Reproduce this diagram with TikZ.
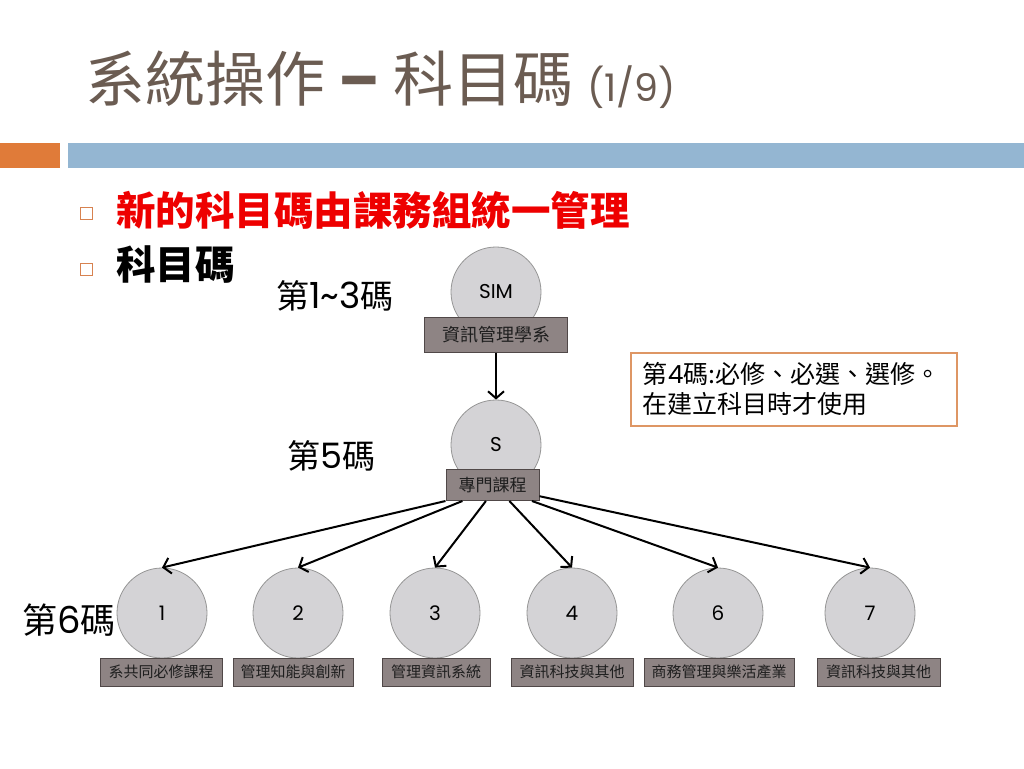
\documentclass[tikz,border=0pt]{standalone}
\usepackage{fontspec}
\setmainfont{Poppins}
\newfontfamily\cjk{Noto Sans CJK TC}
\newfontfamily\lat{Poppins}
\usetikzlibrary{arrows.meta,calc}
\newcommand\fsz[1]{\fontsize{#1}{#1}\selectfont}
\definecolor{titlec}{RGB}{107,92,82}
\definecolor{orangec}{RGB}{224,123,57}
\definecolor{bluec}{RGB}{148,182,210}
\definecolor{bulc}{RGB}{215,130,80}
\definecolor{redc}{RGB}{238,0,0}
\definecolor{circfill}{RGB}{212,211,214}
\definecolor{circdraw}{RGB}{150,150,150}
\definecolor{boxfill}{RGB}{142,132,132}
\definecolor{boxdraw}{RGB}{80,72,72}
\definecolor{boxtext}{RGB}{30,30,30}
\definecolor{notec}{RGB}{222,150,100}
\tikzset{
  circ/.style={circle, minimum size=90pt, inner sep=0pt, fill=circfill, draw=circdraw, line width=0.8pt, font=\lat\fsz{20}},
  lbl/.style={rectangle, fill=boxfill, draw=boxdraw, line width=1pt, font=\cjk\fsz{15}, text=boxtext, inner sep=0pt, minimum height=28pt},
  arr/.style={line width=2pt, -{Straight Barb[length=7pt,width=16pt]}},
  codelbl/.style={anchor=west, inner sep=0pt, text=black},
  bullet/.style={draw=bulc, line width=1pt, minimum size=12pt, inner sep=0pt}
}
\begin{document}
\begin{tikzpicture}[x=1pt,y=-1pt]
\useasboundingbox (0,0) rectangle (1024,768);
\fill[white] (0,0) rectangle (1024,768);
% title
\node[anchor=west, inner sep=0pt, text=titlec] (title) at (85,80) {\fsz{60}\cjk 系統操作 \lat\bfseries –\mdseries\cjk{} 科目碼 \lat\fsz{38}(1/9)};
% bars
\fill[orangec] (0,143) rectangle (60,168);
\fill[bluec] (68,143) rectangle (1024,168);
% bullets
\node[bullet] (b1) at (86,213) {};
\node[bullet] (b2) at (86,269) {};
\node[anchor=west, inner sep=0pt, text=redc] (t1) at (116,210) {\fsz{39.5}\cjk\bfseries 新的科目碼由課務組統一管理};
\node[anchor=west, inner sep=0pt, text=black] (t2) at (116,265) {\fsz{39.5}\cjk\bfseries 科目碼};
% level labels
\node[codelbl] (l13) at (276,296) {\fsz{33}\cjk 第\lat\fsz{36}1\textasciitilde 3\cjk\fsz{33}碼};
\node[codelbl] (l5) at (287,456) {\fsz{33}\cjk 第\lat\fsz{35}5\cjk\fsz{33}碼};
\node[codelbl] (l6) at (22,620) {\fsz{35}\cjk 第\lat\fsz{37}6\cjk\fsz{35}碼};
% circles
\node[circ] (sim) at (496,292) {SIM};
\node[circ] (sc) at (496,445) {S};
\node[circ] (c1) at (162,613) {1};
\node[circ] (c2) at (298,613) {2};
\node[circ] (c3) at (435,613) {3};
\node[circ] (c4) at (572,613) {4};
\node[circ] (c6) at (718,613) {6};
\node[circ] (c7) at (870,613) {7};
% boxes
\node[lbl, minimum width=143pt, minimum height=35pt, font=\cjk\fsz{18}] (simbox) at (496,334.5) {資訊管理學系};
\node[lbl, minimum width=93pt, minimum height=31pt, font=\cjk\fsz{17}] (sbox) at (492.5,485) {專門課程};
\node[lbl, minimum width=122pt] (k1) at (161,672) {系共同必修課程};
\node[lbl, minimum width=120pt] (k2) at (293,672) {管理知能與創新};
\node[lbl, minimum width=108pt] (k3) at (436,672) {管理資訊系統};
\node[lbl, minimum width=122pt] (k4) at (572,672) {資訊科技與其他};
\node[lbl, minimum width=150pt] (k6) at (719,672) {商務管理與樂活產業};
\node[lbl, minimum width=123pt] (k7) at (878.5,672) {資訊科技與其他};
% note
\node[draw=notec, line width=1.6pt, fill=white, anchor=north west, minimum width=326pt, minimum height=73pt, inner xsep=12pt, inner ysep=0pt, text width=302pt, align=left, font=\cjk\fontsize{25}{30}\selectfont] (note) at (630,352) {第\lat 4\cjk 碼:必修、必選、選修。\\在建立科目時才使用};
% arrows
\draw[arr] (simbox.south) -- (sc.north);
\draw[arr] (sbox.south west) -- (c1.north);
\draw[arr] ($(sbox.south west)!0.18!(sbox.south east)$) -- (c2.north);
\draw[arr] ($(sbox.south west)!0.43!(sbox.south east)$) -- (c3.north);
\draw[arr] ($(sbox.south west)!0.68!(sbox.south east)$) -- (c4.north);
\draw[arr] ($(sbox.south west)!0.92!(sbox.south east)$) -- (c6.north);
\draw[arr] ($(sbox.south east)!0.15!(sbox.north east)$) -- (c7.north);
\end{tikzpicture}
\end{document}
